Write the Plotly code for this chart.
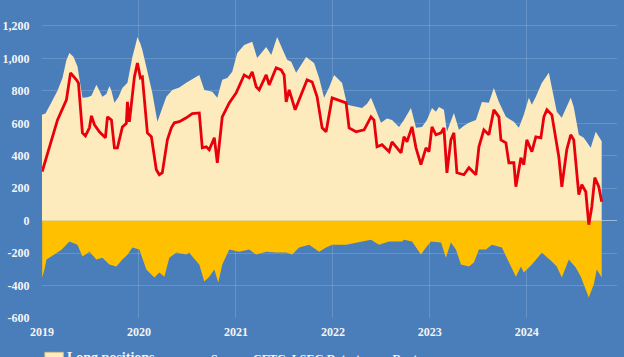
import plotly.graph_objects as go

# Decimal-year positions and values (contracts, thousands)
long_years = [2019.000, 2019.036, 2019.098, 2019.160, 2019.211, 2019.252, 2019.283, 2019.324, 2019.366, 2019.417,
              2019.469, 2019.510, 2019.561, 2019.592, 2019.623, 2019.664, 2019.695, 2019.716, 2019.747, 2019.788,
              2019.829, 2019.881, 2019.932, 2019.963, 2019.984, 2020.015, 2020.035, 2020.087, 2020.138, 2020.190,
              2020.231, 2020.282, 2020.344, 2020.416, 2020.488, 2020.550, 2020.622, 2020.674, 2020.756, 2020.808,
              2020.859, 2020.911, 2020.962, 2021.014, 2021.085, 2021.168, 2021.219, 2021.271, 2021.312, 2021.364,
              2021.425, 2021.497, 2021.528, 2021.570, 2021.621, 2021.672, 2021.724, 2021.806, 2021.858, 2021.909,
              2021.961, 2022.012, 2022.095, 2022.146, 2022.239, 2022.301, 2022.352, 2022.393, 2022.445, 2022.496,
              2022.558, 2022.610, 2022.682, 2022.733, 2022.805, 2022.857, 2022.919, 2022.970, 2023.022, 2023.063,
              2023.094, 2023.145, 2023.176, 2023.217, 2023.248, 2023.300, 2023.351, 2023.403, 2023.475, 2023.537,
              2023.609, 2023.660, 2023.712, 2023.784, 2023.866, 2023.918, 2023.969, 2024.021, 2024.052, 2024.093,
              2024.154, 2024.227, 2024.258, 2024.309, 2024.360, 2024.412, 2024.453, 2024.484, 2024.536, 2024.587,
              2024.659, 2024.711, 2024.762, 2024.772]
long_positions = [652, 660, 730, 800, 880, 990, 1034, 1010, 950, 757,
                  760, 770, 837, 800, 763, 780, 830, 800, 726, 760,
                  818, 850, 1009, 1080, 1132, 1090, 1052, 920, 787, 609,
                  680, 763, 806, 820, 850, 870, 898, 806, 794, 757,
                  868, 880, 917, 1034, 1083, 1102, 1003, 1040, 1071, 1021,
                  1132, 1034, 991, 980, 911, 960, 1009, 972, 880, 757,
                  820, 898, 849, 714, 701, 695, 720, 757, 680, 603,
                  630, 621, 578, 621, 695, 572, 578, 620, 695, 671,
                  701, 683, 548, 620, 664, 560, 585, 603, 621, 732,
                  726, 818, 732, 640, 609, 572, 652, 757, 714, 763,
                  849, 911, 825, 671, 634, 700, 757, 701, 529, 511,
                  449, 548, 498, 490]

short_years = [2019.002, 2019.026, 2019.046, 2019.129, 2019.201, 2019.283, 2019.324, 2019.366, 2019.417, 2019.489,
               2019.561, 2019.623, 2019.695, 2019.767, 2019.829, 2019.881, 2019.932, 2020.004, 2020.076, 2020.159,
               2020.210, 2020.262, 2020.313, 2020.385, 2020.488, 2020.519, 2020.550, 2020.622, 2020.674, 2020.725,
               2020.777, 2020.818, 2020.859, 2020.931, 2021.034, 2021.137, 2021.209, 2021.312, 2021.415, 2021.518,
               2021.580, 2021.652, 2021.755, 2021.858, 2021.930, 2021.992, 2022.136, 2022.301, 2022.393, 2022.476,
               2022.579, 2022.713, 2022.733, 2022.816, 2022.908, 2022.960, 2023.011, 2023.115, 2023.166, 2023.217,
               2023.269, 2023.321, 2023.403, 2023.454, 2023.506, 2023.578, 2023.640, 2023.743, 2023.815, 2023.887,
               2023.939, 2023.969, 2024.052, 2024.155, 2024.258, 2024.309, 2024.361, 2024.433, 2024.505, 2024.557,
               2024.639, 2024.690, 2024.721, 2024.772]
short_positions = [-351, -300, -240, -209, -180, -129, -140, -148, -221, -191,
                   -240, -228, -271, -283, -240, -210, -166, -178, -301, -351,
                   -320, -345, -228, -197, -209, -197, -221, -271, -375, -345,
                   -301, -381, -271, -178, -191, -178, -209, -191, -197, -197,
                   -209, -166, -148, -191, -166, -148, -148, -129, -117, -148,
                   -129, -129, -117, -129, -209, -166, -129, -135, -228, -135,
                   -178, -271, -283, -258, -178, -178, -148, -166, -258, -345,
                   -283, -320, -271, -197, -252, -283, -351, -240, -289, -345,
                   -474, -394, -301, -351]

net_years = [2019.002, 2019.077, 2019.160, 2019.252, 2019.294, 2019.355, 2019.376, 2019.417, 2019.448, 2019.489,
             2019.510, 2019.541, 2019.592, 2019.654, 2019.675, 2019.716, 2019.747, 2019.778, 2019.829, 2019.870,
             2019.881, 2019.901, 2019.953, 2019.984, 2020.015, 2020.035, 2020.087, 2020.128, 2020.179, 2020.210,
             2020.241, 2020.293, 2020.334, 2020.365, 2020.416, 2020.488, 2020.550, 2020.622, 2020.653, 2020.694,
             2020.725, 2020.777, 2020.808, 2020.859, 2020.931, 2021.003, 2021.085, 2021.137, 2021.168, 2021.209,
             2021.240, 2021.312, 2021.343, 2021.415, 2021.467, 2021.497, 2021.518, 2021.549, 2021.611, 2021.652,
             2021.734, 2021.786, 2021.837, 2021.889, 2021.930, 2021.992, 2022.095, 2022.136, 2022.167, 2022.239,
             2022.322, 2022.393, 2022.424, 2022.455, 2022.507, 2022.579, 2022.610, 2022.661, 2022.703, 2022.733,
             2022.764, 2022.816, 2022.857, 2022.908, 2022.960, 2022.991, 2023.022, 2023.063, 2023.115, 2023.145,
             2023.176, 2023.217, 2023.248, 2023.279, 2023.351, 2023.403, 2023.475, 2023.506, 2023.557, 2023.609,
             2023.660, 2023.712, 2023.733, 2023.784, 2023.815, 2023.866, 2023.887, 2023.939, 2023.969, 2024.000,
             2024.052, 2024.093, 2024.145, 2024.176, 2024.207, 2024.258, 2024.279, 2024.330, 2024.361, 2024.412,
             2024.453, 2024.484, 2024.536, 2024.567, 2024.608, 2024.639, 2024.670, 2024.701, 2024.742, 2024.772]
net_positions = [302, 455, 621, 745, 911, 868, 849, 541, 523, 572,
                 646, 591, 548, 511, 640, 621, 449, 449, 578, 600,
                 732, 609, 886, 972, 880, 886, 541, 517, 314, 283,
                 295, 498, 572, 603, 610, 634, 660, 664, 449, 455,
                 437, 511, 357, 640, 726, 788, 898, 880, 917, 825,
                 806, 898, 837, 942, 929, 898, 732, 806, 683, 745,
                 868, 855, 763, 572, 548, 757, 732, 726, 572, 548,
                 560, 640, 620, 455, 468, 425, 486, 449, 418, 517,
                 486, 578, 449, 345, 449, 425, 578, 529, 541, 572,
                 295, 498, 541, 295, 283, 326, 283, 455, 560, 529,
                 683, 640, 498, 480, 357, 357, 209, 388, 345, 498,
                 425, 517, 511, 640, 683, 652, 572, 394, 209, 437,
                 529, 498, 160, 222, 178, -25, 86, 265, 209, 117]

year_ticks = [2019, 2020, 2021, 2022, 2023, 2024]
year_labels = ["2019", "2020", "2021", "2022", "2023", "2024"]
y_ticks = [-600, -400, -200, 0, 200, 400, 600, 800, 1000, 1200]
y_labels = ["-600", "-400", "-200", "0", "200", "400", "600", "800", "1,000", "1,200"]

BG = "#4a7ebb"
LIGHT = "#fdebbd"
GOLD = "#ffc000"
RED = "#e8000b"
TXT = "#f4f4f4"
FONT = "Liberation Serif"

fig = go.Figure()
fig.add_trace(go.Scatter(x=long_years, y=long_positions, mode="lines", fill="tozeroy",
                         line=dict(width=0, color=LIGHT), fillcolor=LIGHT,
                         name="Long positions", hoverinfo="skip"))
fig.add_trace(go.Scatter(x=short_years, y=short_positions, mode="lines", fill="tozeroy",
                         line=dict(width=0, color=GOLD), fillcolor=GOLD,
                         name="Short positions", hoverinfo="skip"))
fig.add_trace(go.Scatter(x=net_years, y=net_positions, mode="lines",
                         line=dict(width=2.8, color=RED), name="Net positions"))

fig.update_layout(
    width=624, height=357,
    margin=dict(l=42, r=7, t=0, b=39, autoexpand=False),
    paper_bgcolor=BG, plot_bgcolor=BG,
    showlegend=False,
    xaxis=dict(range=[2019.0, 2024.93], tickvals=year_ticks, ticktext=year_labels,
               automargin=False,
               showgrid=True, gridcolor="rgba(255,255,255,0.16)", gridwidth=1,
               zeroline=False, showline=False,
               ticks="outside", ticklen=3, tickcolor="rgba(0,0,0,0)",
               tickfont=dict(family=FONT, size=12, color=TXT, weight="bold")),
    yaxis=dict(range=[-600, 1360], tickvals=y_ticks, ticktext=y_labels,
               automargin=False,
               showgrid=True, gridcolor="rgba(255,255,255,0.16)", gridwidth=1,
               zeroline=True, zerolinecolor="rgba(255,255,255,0.45)", zerolinewidth=1,
               showline=False,
               ticks="outside", ticklen=9, tickcolor="rgba(0,0,0,0)",
               tickfont=dict(family=FONT, size=12, color=TXT, weight="bold")),
)

# Bottom legend row (cut off by the frame, as in the reference)
fig.add_shape(type="rect", xref="paper", yref="paper",
              x0=0.005, x1=0.037, y0=-0.135, y1=-0.108,
              fillcolor=LIGHT, line=dict(color="#d8c48a", width=1))
fig.add_annotation(xref="paper", yref="paper", x=0.04, y=-0.095, xanchor="left", yanchor="top",
                   text="Long positions", showarrow=False,
                   font=dict(family=FONT, size=14, color=TXT, weight="bold"))
fig.add_annotation(xref="paper", yref="paper", x=0.29, y=-0.1, xanchor="left", yanchor="top",
                   text="Source: CFTC, LSEG Datastream, Reuters", showarrow=False,
                   font=dict(family=FONT, size=12, color=TXT, weight="bold"))

fig.write_html("out.html", config={"displayModeBar": False},
               post_script="document.body.style.margin='0';document.body.style.background='" + BG + "';")
